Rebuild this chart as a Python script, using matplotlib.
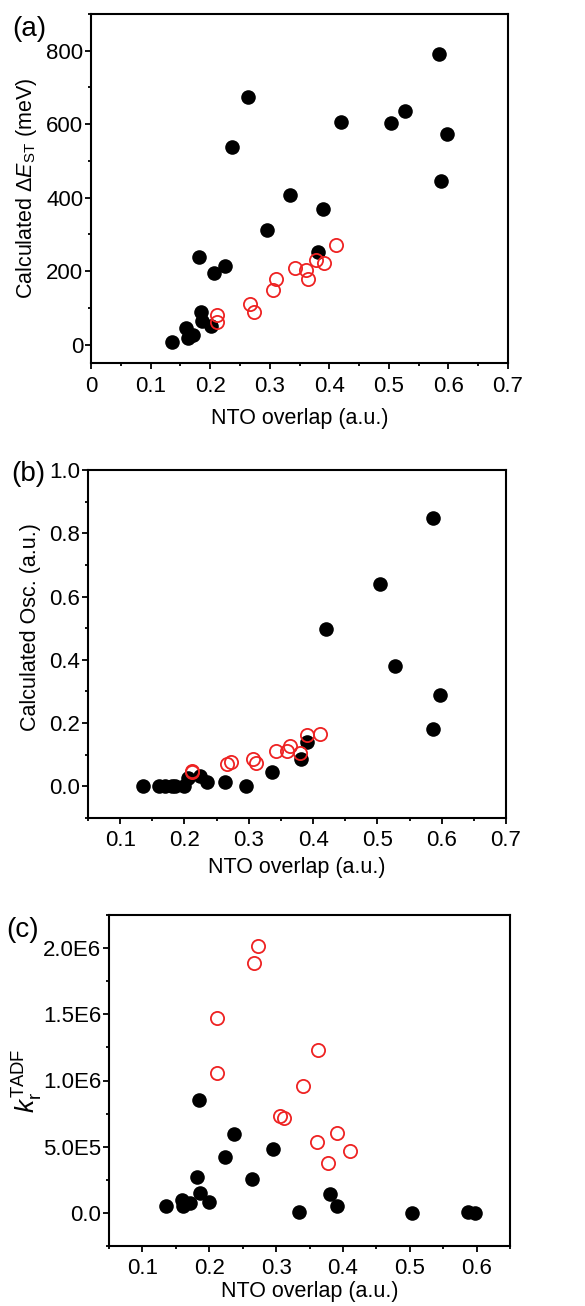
import numpy as np
import matplotlib
matplotlib.use("Agg")
import matplotlib.pyplot as plt
from matplotlib.ticker import MultipleLocator, FuncFormatter

plt.rcParams['font.family'] = ['Liberation Sans', 'DejaVu Sans']
plt.rcParams['mathtext.fontset'] = 'custom'
plt.rcParams['mathtext.rm'] = 'Liberation Sans'
plt.rcParams['mathtext.it'] = 'Liberation Sans:italic'

# (a) singlet-triplet gap vs NTO overlap
a_black_x = [0.5845, 0.263, 0.236, 0.4205, 0.5036, 0.5276, 0.5968, 0.5867, 0.3335, 0.389,
             0.2956, 0.381, 0.181, 0.207, 0.2248, 0.184, 0.187, 0.2008, 0.1595, 0.162, 0.171, 0.136]
a_black_y = [791, 675, 538, 607, 603, 636, 574, 446, 408, 369,
             311, 252, 238, 194, 213, 88, 64, 50, 45, 18, 27, 7]
a_red_x = [0.4116, 0.3776, 0.3904, 0.342, 0.3614, 0.3642, 0.311, 0.3056, 0.2677, 0.2733, 0.212, 0.212]
a_red_y = [271, 230, 221, 209, 203, 179, 180, 150, 111, 88, 82, 61]

# (b) oscillator strength vs NTO overlap
b_black_x = [0.587, 0.504, 0.4205, 0.528, 0.597, 0.586, 0.390, 0.381, 0.336, 0.2956,
             0.263, 0.235, 0.224, 0.2056, 0.200, 0.185, 0.180, 0.170, 0.160, 0.135]
b_black_y = [0.849, 0.640, 0.498, 0.381, 0.289, 0.181, 0.139, 0.088, 0.044, 0.0,
             0.014, 0.013, 0.032, 0.025, 0.0, 0.0, 0.0, 0.0, 0.0, 0.0]
b_red_x = [0.411, 0.391, 0.379, 0.3645, 0.360, 0.342, 0.312, 0.306, 0.272, 0.2665, 0.211, 0.212]
b_red_y = [0.165, 0.161, 0.105, 0.128, 0.113, 0.113, 0.074, 0.086, 0.077, 0.072, 0.048, 0.045]

# (c) k_r TADF vs NTO overlap
c_black_x = [0.184, 0.237, 0.2954, 0.224, 0.2645, 0.181, 0.186, 0.380, 0.159, 0.171,
             0.160, 0.200, 0.1354, 0.3906, 0.334, 0.504, 0.5866, 0.5976]
c_black_y = [0.853e6, 0.596e6, 0.482e6, 0.424e6, 0.258e6, 0.270e6, 0.152e6, 0.139e6, 0.101e6, 0.076e6,
             0.050e6, 0.083e6, 0.050e6, 0.053e6, 0.008e6, 0.0, 0.008e6, 0.0]
c_red_x = [0.2725, 0.2675, 0.211, 0.363, 0.211, 0.341, 0.306, 0.312, 0.3906, 0.3607, 0.4106, 0.377]
c_red_y = [2.018e6, 1.886e6, 1.472e6, 1.227e6, 1.053e6, 0.962e6, 0.732e6, 0.715e6, 0.606e6, 0.538e6,
           0.467e6, 0.374e6]

W, H = 585, 1306
fig = plt.figure(figsize=(W / 100, H / 100), dpi=100)

TICK_FS = 16
LABEL_FS = 15.5


def axes_px(left, top, right, bottom):
    return fig.add_axes([left / W, 1 - bottom / H, (right - left) / W, (bottom - top) / H])


def style(ax):
    for s in ax.spines.values():
        s.set_linewidth(1.5)
    ax.tick_params(which='both', direction='out', top=False, right=False, labelsize=TICK_FS, width=1.3)
    ax.tick_params(which='major', length=4)
    ax.tick_params(which='minor', length=2.5)
    ax.tick_params(axis='x', which='major', pad=5)
    ax.tick_params(axis='y', which='major', pad=1.5)


def draw(ax, bx, by, rx, ry):
    ax.plot(bx, by, 'o', color='black', markersize=10.5, markeredgewidth=0, zorder=2)
    ax.plot(rx, ry, 'o', markerfacecolor='none', markeredgecolor='#ee2222',
            markersize=9.5, markeredgewidth=1.3, zorder=3)


# panel a
ax1 = axes_px(91, 14, 508, 363)
draw(ax1, a_black_x, a_black_y, a_red_x, a_red_y)
ax1.set_xlim(0, 0.7)
ax1.set_ylim(-50, 900)
ax1.xaxis.set_major_locator(MultipleLocator(0.1))
ax1.xaxis.set_minor_locator(MultipleLocator(0.05))
ax1.yaxis.set_major_locator(MultipleLocator(200))
ax1.yaxis.set_minor_locator(MultipleLocator(100))
ax1.xaxis.set_major_formatter(FuncFormatter(lambda v, p: '0' if abs(v) < 1e-9 else '%.1f' % v))
style(ax1)
ax1.set_xlabel('NTO overlap (a.u.)', fontsize=LABEL_FS, labelpad=8)
ax1.set_ylabel(r'Calculated $\Delta\mathit{E}_\mathrm{ST}$ (meV)', fontsize=LABEL_FS)
ax1.yaxis.set_label_coords(-0.125, 0.5)
fig.text(12 / W, 1 - 29 / H, '(a)', fontsize=20, va='center', ha='left')

# panel b
ax2 = axes_px(88, 470, 506, 818)
draw(ax2, b_black_x, b_black_y, b_red_x, b_red_y)
ax2.set_xlim(0.05, 0.7)
ax2.set_ylim(-0.1, 1.0)
ax2.xaxis.set_major_locator(MultipleLocator(0.1))
ax2.xaxis.set_minor_locator(MultipleLocator(0.05))
ax2.yaxis.set_major_locator(MultipleLocator(0.2))
ax2.yaxis.set_minor_locator(MultipleLocator(0.1))
ax2.xaxis.set_major_formatter(FuncFormatter(lambda v, p: '%.1f' % v))
ax2.yaxis.set_major_formatter(FuncFormatter(lambda v, p: '%.1f' % v))
style(ax2)
ax2.set_xlabel('NTO overlap (a.u.)', fontsize=LABEL_FS, labelpad=4)
ax2.set_ylabel('Calculated Osc. (a.u.)', fontsize=LABEL_FS)
ax2.yaxis.set_label_coords(-0.112, 0.55)
fig.text(11 / W, 1 - 474 / H, '(b)', fontsize=20, va='center', ha='left')

# panel c
ax3 = axes_px(109, 915, 510, 1246)
draw(ax3, c_black_x, c_black_y, c_red_x, c_red_y)
ax3.set_xlim(0.05, 0.65)
ax3.set_ylim(-2.5e5, 2.25e6)
ax3.xaxis.set_major_locator(MultipleLocator(0.1))
ax3.xaxis.set_minor_locator(MultipleLocator(0.05))
ax3.yaxis.set_major_locator(MultipleLocator(5e5))
ax3.yaxis.set_minor_locator(MultipleLocator(2.5e5))


def sci(v, p):
    if abs(v) < 1:
        return '0.0'
    e = int(np.floor(np.log10(abs(v))))
    return '%.1fE%d' % (v / 10 ** e, e)


ax3.xaxis.set_major_formatter(FuncFormatter(lambda v, p: '%.1f' % v))
ax3.yaxis.set_major_formatter(FuncFormatter(sci))
style(ax3)
ax3.set_xlabel('NTO overlap (a.u.)', fontsize=LABEL_FS, labelpad=1)
ax3.set_ylabel(r'$\mathit{k}_\mathrm{r}^\mathrm{TADF}$', fontsize=19)
ax3.yaxis.set_label_coords(-0.16, 0.5)
fig.text(6 / W, 1 - 930 / H, '(c)', fontsize=20, va='center', ha='left')

fig.savefig('out.png', dpi=100)
